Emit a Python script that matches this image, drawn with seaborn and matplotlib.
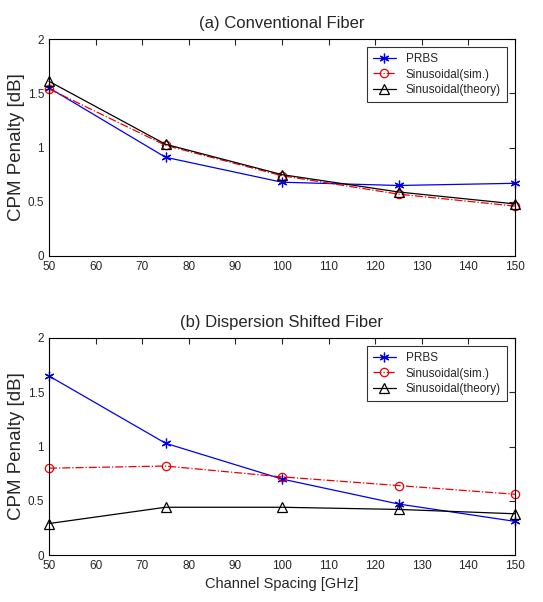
import pandas as pd
import seaborn as sns
import matplotlib.pyplot as plt

spacing = [50, 75, 100, 125, 150]
labels = ['PRBS', 'Sinusoidal(sim.)', 'Sinusoidal(theory)']

conv_prbs = [1.55, 0.91, 0.68, 0.65, 0.67]
conv_sim = [1.54, 1.02, 0.74, 0.57, 0.46]
conv_theory = [1.61, 1.03, 0.75, 0.59, 0.48]

dsf_prbs = [1.65, 1.03, 0.70, 0.47, 0.31]
dsf_sim = [0.80, 0.82, 0.72, 0.64, 0.56]
dsf_theory = [0.29, 0.44, 0.44, 0.42, 0.38]

sns.set_style('white')
plt.rcParams['font.family'] = ['Liberation Sans', 'DejaVu Sans']

# matlab-ish line styles: '*-b', 'o-.r', '^-k'
styles = {
    'PRBS': dict(color='#0000ee', marker=(6, 2, 0), linestyle='-', ms=7),
    'Sinusoidal(sim.)': dict(color='#ee0000', marker='o', linestyle='-.', ms=6),
    'Sinusoidal(theory)': dict(color='black', marker='^', linestyle='-', ms=6.5),
}

fig = plt.figure(figsize=(5.43, 6.02), dpi=100)
ax1 = fig.add_axes([49/543, 1 - 256/602, 466/543, 217/602])
ax2 = fig.add_axes([49/543, 1 - 555/602, 466/543, 217/602])

panels = [
    (ax1, '(a) Conventional Fiber', [conv_prbs, conv_sim, conv_theory]),
    (ax2, '(b) Dispersion Shifted Fiber', [dsf_prbs, dsf_sim, dsf_theory]),
]

for ax, title, series in panels:
    for name, vals in zip(labels, series):
        df = pd.DataFrame({'x': spacing, 'y': vals})
        st = styles[name]
        sns.lineplot(data=df, x='x', y='y', ax=ax, color=st['color'],
                     marker=st['marker'], linestyle=st['linestyle'],
                     markerfacecolor='none', markeredgecolor=st['color'],
                     markeredgewidth=0.9, markersize=st['ms'], linewidth=0.9,
                     label=name, clip_on=False)
    ax.set_xlim(50, 150)
    ax.set_ylim(0, 2)
    ax.set_xticks(range(50, 151, 10))
    ax.set_yticks([0, 0.5, 1, 1.5, 2])
    ax.set_yticklabels(['0', '0.5', '1', '1.5', '2'])
    ax.tick_params(direction='in', top=True, right=True, labelsize=8.5, length=4)
    for s in ax.spines.values():
        s.set_color('black')
        s.set_linewidth(0.8)
    ax.set_title(title, fontsize=12, pad=8)
    ax.set_ylabel('CPM Penalty [dB]', fontsize=13.5, labelpad=2)
    ax.set_xlabel('')
    leg = ax.legend(loc='upper right', fontsize=8.5, frameon=True, fancybox=False,
                    edgecolor='black', handlelength=2.0, borderpad=0.5,
                    labelspacing=0.3, bbox_to_anchor=(0.995, 0.99))
    leg.get_frame().set_linewidth(0.8)

ax2.set_xlabel('Channel Spacing [GHz]', fontsize=10.5)

fig.savefig('out.png', dpi=100)
